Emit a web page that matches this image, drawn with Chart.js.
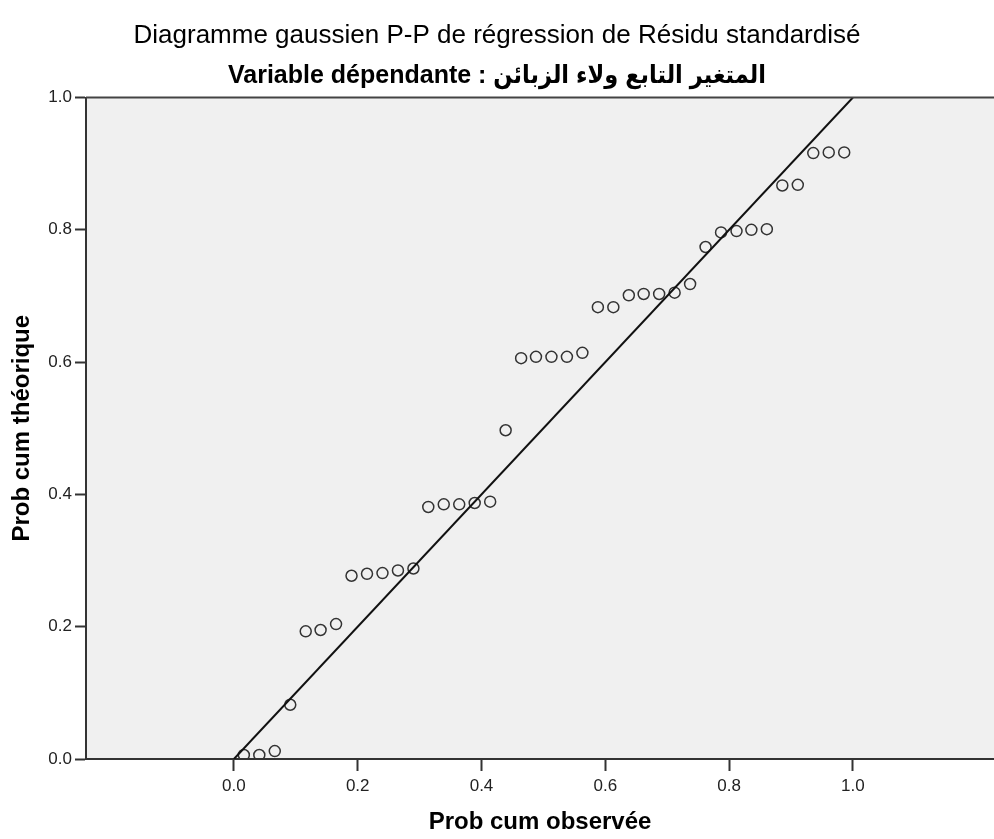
<!DOCTYPE html>
<html>
<head>
<meta charset="utf-8">
<title>Diagramme gaussien P-P</title>
<script src="https://cdn.jsdelivr.net/npm/chart.js@4.4.1/dist/chart.umd.min.js"></script>
<style>
    html, body { margin: 0; padding: 0; background: #ffffff; }
    canvas { display: block; }
</style>
</head>
<body>
<canvas id="chart-pp" width="994" height="839"></canvas>
<script>
// Diagramme P-P : Prob cum observée (x) vs Prob cum théorique (y)

const probObservee = [
    0.016, 0.041, 0.066, 0.091, 0.116, 0.140, 0.165, 0.190, 0.215, 0.240,
    0.265, 0.290, 0.314, 0.339, 0.364, 0.389, 0.414, 0.439, 0.464, 0.488,
    0.513, 0.538, 0.563, 0.588, 0.613, 0.638, 0.662, 0.687, 0.712, 0.737,
    0.762, 0.787, 0.812, 0.836, 0.861, 0.886, 0.911, 0.936, 0.961, 0.986
];

const probTheorique = [
    0.006, 0.006, 0.012, 0.082, 0.193, 0.195, 0.204, 0.277, 0.280, 0.281,
    0.285, 0.288, 0.381, 0.385, 0.385, 0.387, 0.389, 0.497, 0.606, 0.608,
    0.608, 0.608, 0.614, 0.683, 0.683, 0.701, 0.703, 0.703, 0.705, 0.718,
    0.774, 0.796, 0.798, 0.800, 0.801, 0.867, 0.868, 0.916, 0.917, 0.917
];

// diagonale de référence
const ligneRefX = [0, 1];
const ligneRefY = [0, 1];

const xTicks = [0, 0.2, 0.4, 0.6, 0.8, 1.0];
const yTicks = [0, 0.2, 0.4, 0.6, 0.8, 1.0];

const FONT = 'Arial, "Liberation Sans", "DejaVu Sans Condensed", "DejaVu Sans", sans-serif';

// fond gris de la zone de tracé + bordure du haut
const fondPlugin = {
    id: 'fondPlugin',
    beforeDraw(chart) {
        const { ctx, chartArea: a } = chart;
        ctx.save();
        ctx.fillStyle = '#f0f0f0';
        ctx.fillRect(a.left, a.top, a.right - a.left, a.bottom - a.top);
        ctx.restore();
    },
    afterDraw(chart) {
        const { ctx, chartArea: a } = chart;
        ctx.save();
        ctx.strokeStyle = '#444';
        ctx.lineWidth = 2;
        ctx.beginPath();
        ctx.moveTo(a.left, a.top);
        ctx.lineTo(a.right, a.top);
        ctx.stroke();
        ctx.restore();
    }
};

const ctx = document.getElementById('chart-pp').getContext('2d');

new Chart(ctx, {
    type: 'scatter',
    data: {
        datasets: [
            {
                label: 'Résidu standardisé',
                data: probObservee.map((x, i) => ({ x: x, y: probTheorique[i] })),
                pointStyle: 'circle',
                pointRadius: 5.5,
                pointBorderWidth: 1.5,
                pointBorderColor: '#333',
                pointBackgroundColor: 'rgba(0,0,0,0)',
                order: 2
            },
            {
                type: 'line',
                label: 'Référence',
                data: ligneRefX.map((x, i) => ({ x: x, y: ligneRefY[i] })),
                borderColor: '#111',
                borderWidth: 2,
                pointRadius: 0,
                fill: false,
                order: 1
            }
        ]
    },
    options: {
        responsive: false,
        animation: false,
        layout: { padding: 0, autoPadding: false },
        plugins: {
            legend: { display: false },
            tooltip: { enabled: false },
            title: {
                display: true,
                text: 'Diagramme gaussien P-P de régression de Résidu standardisé',
                color: '#000',
                font: { family: FONT, size: 26, weight: 'normal', lineHeight: 1.2 },
                padding: { top: 20, bottom: 9.6 }
            },
            subtitle: {
                display: true,
                text: 'Variable dépendante : المتغير التابع ولاء الزبائن',
                color: '#000',
                font: { family: FONT, size: 25, weight: 'bold', lineHeight: 1.2 },
                padding: { top: 0, bottom: 6.7 }
            }
        },
        scales: {
            x: {
                type: 'linear',
                min: -0.239,
                max: 1.228,
                afterBuildTicks: (s) => { s.ticks = xTicks.map(v => ({ value: v })); },
                afterFit: (s) => { s.height = 80; },
                ticks: {
                    color: '#222',
                    font: { family: FONT, size: 17 },
                    padding: 5,
                    maxRotation: 0,
                    callback: (v) => Number(v).toFixed(1)
                },
                grid: {
                    drawOnChartArea: false,
                    drawTicks: true,
                    tickLength: 12,
                    tickWidth: 2,
                    tickColor: '#333'
                },
                border: { color: '#333', width: 2 },
                title: {
                    display: true,
                    text: 'Prob cum observée',
                    color: '#000',
                    font: { family: FONT, size: 24, weight: 'bold', lineHeight: 1.2 },
                    padding: { top: 0, bottom: 2 }
                }
            },
            y: {
                type: 'linear',
                min: 0,
                max: 1,
                afterBuildTicks: (s) => { s.ticks = yTicks.map(v => ({ value: v })); },
                afterFit: (s) => { s.width = 86; },
                ticks: {
                    color: '#222',
                    font: { family: FONT, size: 17 },
                    padding: 3,
                    callback: (v) => Number(v).toFixed(1)
                },
                grid: {
                    drawOnChartArea: false,
                    drawTicks: true,
                    tickLength: 11,
                    tickWidth: 2,
                    tickColor: '#333'
                },
                border: { color: '#333', width: 2 },
                title: {
                    display: true,
                    text: 'Prob cum théorique',
                    color: '#000',
                    font: { family: FONT, size: 24, weight: 'bold', lineHeight: 1.2 },
                    padding: { top: 8, bottom: 0 }
                }
            }
        }
    },
    plugins: [fondPlugin]
});
</script>
</body>
</html>
